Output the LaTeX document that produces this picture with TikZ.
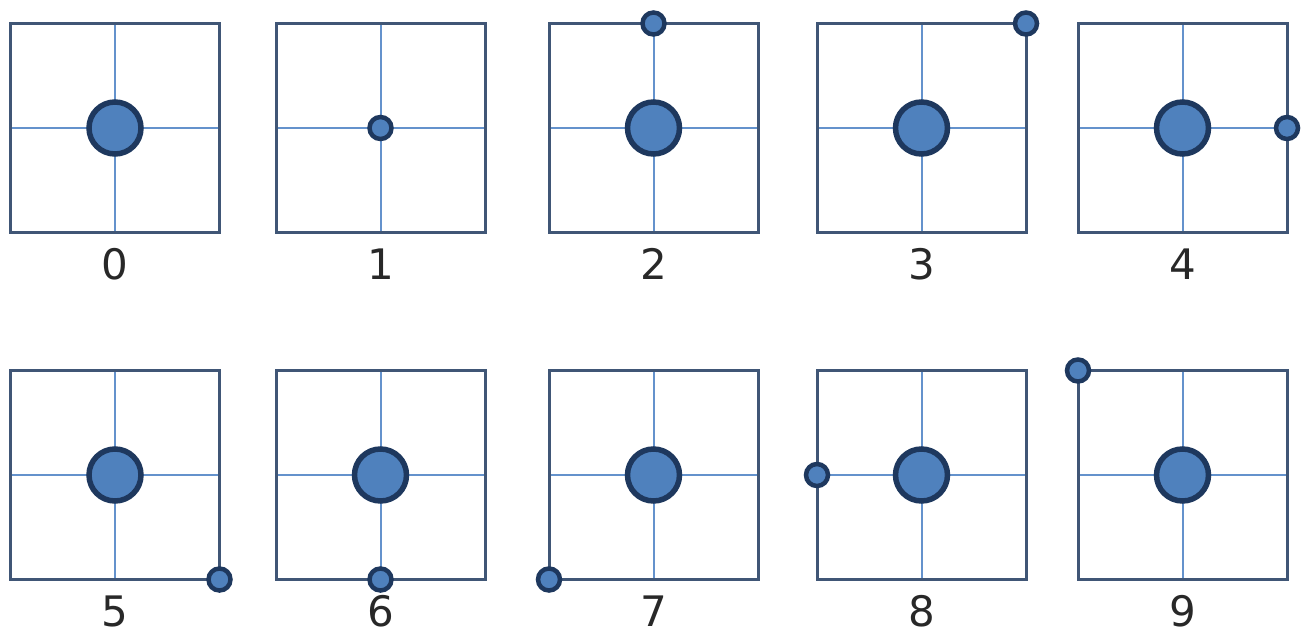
\documentclass[tikz,border=0pt]{standalone}
\usepackage{fontspec}
\setmainfont{DejaVu Sans}
\definecolor{boxc}{RGB}{64,86,118}
\definecolor{gridc}{RGB}{100,146,204}
\definecolor{dotfill}{RGB}{79,129,189}
\definecolor{dotline}{RGB}{30,56,94}
\definecolor{digitc}{RGB}{40,40,40}
\begin{document}
\begin{tikzpicture}[x=1pt,y=-1pt,
  frame/.style={draw=boxc,line width=3pt,rectangle,minimum width=209pt,minimum height=209pt,inner sep=0pt,outer sep=0pt},
  gridline/.style={draw=gridc,line width=2pt},
  bigdot/.style={circle,fill=dotfill,draw=dotline,line width=5.5pt,minimum size=52pt,inner sep=0pt},
  smalldot/.style={circle,fill=dotfill,draw=dotline,line width=4.5pt,minimum size=22pt,inner sep=0pt},
  digit/.style={font=\fontsize{42}{42}\selectfont,text=digitc,inner sep=0pt}]
\useasboundingbox (0,0) rectangle (1304,637);
% boxes and grids
\foreach \n/\x/\y/\ly in {0/115/128/264,1/380.5/128/264,2/653.5/128/264,3/921.5/128/264,4/1182.5/128/264,
                          5/115/475/611,6/380.5/475/611,7/653.5/475/611,8/921.5/475/611,9/1182.5/475/611}{
  \node[frame] (b\n) at (\x,\y) {};
  \draw[gridline] (b\n.north) -- (b\n.south);
  \draw[gridline] (b\n.west) -- (b\n.east);
  \draw[draw=boxc,line width=3pt] (b\n.north west) rectangle (b\n.south east);
  \node[digit] (l\n) at (\x,\ly) {\n};
}
% big dots
\foreach \n in {0,2,3,4,5,6,7,8,9}{
  \node[bigdot] (c\n) at (b\n.center) {};
}
% small dots
\node[smalldot] (s1) at (b1.center) {};
\node[smalldot] (s2) at (b2.north) {};
\node[smalldot] (s3) at (b3.north east) {};
\node[smalldot] (s4) at (b4.east) {};
\node[smalldot] (s5) at (b5.south east) {};
\node[smalldot] (s6) at (b6.south) {};
\node[smalldot] (s7) at (b7.south west) {};
\node[smalldot] (s8) at (b8.west) {};
\node[smalldot] (s9) at (b9.north west) {};
\end{tikzpicture}
\end{document}
